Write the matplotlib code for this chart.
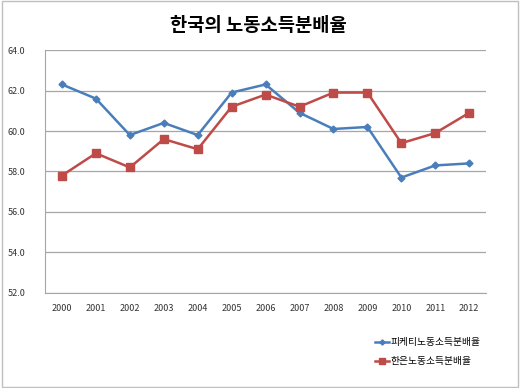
import matplotlib.pyplot as plt
from matplotlib.patches import Rectangle

plt.rcParams['font.family'] = ['Noto Sans CJK KR', 'DejaVu Sans']

years = ['2000', '2001', '2002', '2003', '2004', '2005', '2006',
         '2007', '2008', '2009', '2010', '2011', '2012']
piketty = [62.3, 61.6, 59.8, 60.4, 59.8, 61.9, 62.3, 60.9, 60.1, 60.2, 57.7, 58.3, 58.4]
bok = [57.8, 58.9, 58.2, 59.6, 59.1, 61.2, 61.8, 61.2, 61.9, 61.9, 59.4, 59.9, 60.9]

fig = plt.figure(figsize=(5.2, 3.88), dpi=100)
ax = fig.add_axes([0.0865, 0.245, 0.8485, 0.626])

x = range(len(years))
ax.plot(x, piketty, color='#4A7EBB', lw=1.8, marker='D', ms=3.5,
        label='피케티노동소득분배율')
ax.plot(x, bok, color='#BE4B48', lw=1.8, marker='s', ms=5.5,
        label='한은노동소득분배율')

ax.set_xlim(-0.5, len(years) - 0.5)
ax.set_ylim(52, 64)
ax.set_yticks([52, 54, 56, 58, 60, 62, 64])
ax.set_yticklabels(['%.1f' % v for v in [52, 54, 56, 58, 60, 62, 64]])
ax.set_xticks(list(x))
ax.set_xticklabels(years)
ax.tick_params(labelsize=6.5, colors='#333333', length=0, pad=8)
ax.tick_params(axis='y', pad=14)
ax.yaxis.grid(True, color='#A6A6A6', lw=0.9)
ax.set_axisbelow(True)
for s in ['top', 'right']:
    ax.spines[s].set_visible(False)
ax.spines['left'].set_color('#A6A6A6')
ax.spines['bottom'].set_color('#A6A6A6')

fig.text(0.497, 0.935, '한국의 노동소득분배율', ha='center', va='center',
         fontsize=13.5, fontweight='bold')

leg = fig.legend(loc='upper left', bbox_to_anchor=(0.705, 0.153),
                 frameon=False, fontsize=7, handlelength=1.4, handletextpad=0.2,
                 labelspacing=0.9, markerscale=0.75, bbox_transform=fig.transFigure)

fig.patches.append(Rectangle((0.003, 0.003), 0.994, 0.994, transform=fig.transFigure,
                             fill=False, ec='#BFBFBF', lw=1))

fig.savefig('out.png', dpi=100)
